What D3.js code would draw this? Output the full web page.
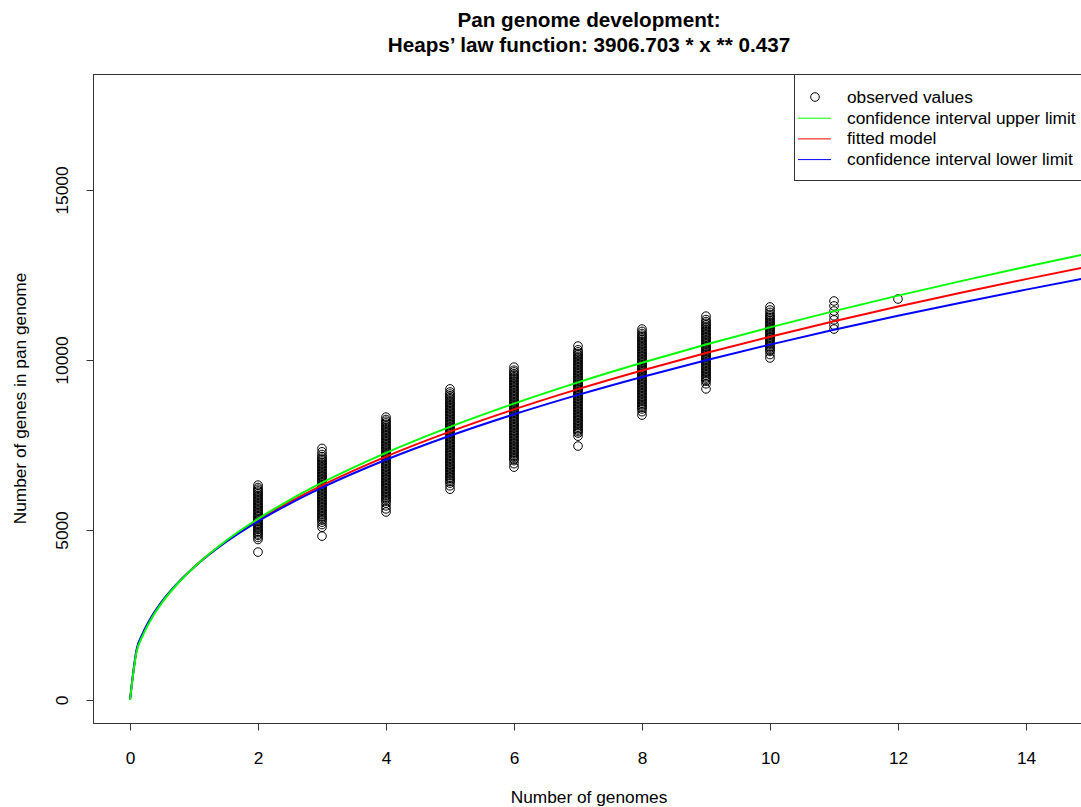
<!DOCTYPE html>
<html>
<head>
<meta charset="utf-8">
<script src="https://cdn.jsdelivr.net/npm/d3@7"></script>
<style>
  body { margin: 0; background: #fff; }
  text { font-family: "Liberation Sans", Arial, Helvetica, sans-serif; fill: #000; }
</style>
</head>
<body>
<svg width="1081" height="807"></svg>
<script>
// number of genomes sampled (x positions of the observed columns)
var genomes = [2, 3, 4, 5, 6, 7, 8, 9, 10, 11, 12];

// observed pan genome sizes, one array per column
var obs2 = [4350, 4720, 4780, 4840, 4880, 4925, 4960, 5010, 5045, 5090, 5130, 5175, 5210, 5255, 5300, 5340, 5385, 5420, 5465, 5510, 5550, 5590, 5635, 5680, 5720, 5760, 5805, 5850, 5890, 5935, 5980, 6020, 6065, 6110, 6150, 6200, 6250, 6320];
var obs3 = [4820, 5080, 5160, 5230, 5290, 5335, 5380, 5420, 5465, 5510, 5550, 5595, 5640, 5680, 5725, 5770, 5810, 5855, 5900, 5940, 5985, 6030, 6070, 6115, 6160, 6200, 6245, 6290, 6330, 6375, 6420, 6460, 6505, 6550, 6590, 6635, 6680, 6720, 6765, 6810, 6850, 6895, 6940, 6980, 7025, 7070, 7110, 7160, 7220, 7300, 7400];
var obs4 = [5530, 5620, 5710, 5790, 5850, 5895, 5940, 5980, 6025, 6070, 6110, 6155, 6200, 6240, 6285, 6330, 6370, 6415, 6460, 6500, 6545, 6590, 6630, 6675, 6720, 6760, 6805, 6850, 6890, 6935, 6980, 7020, 7065, 7110, 7150, 7195, 7240, 7280, 7325, 7370, 7410, 7455, 7500, 7540, 7585, 7630, 7670, 7715, 7760, 7800, 7845, 7890, 7930, 7975, 8020, 8060, 8105, 8150, 8200, 8250, 8320];
var obs5 = [6200, 6300, 6380, 6430, 6475, 6520, 6560, 6605, 6650, 6690, 6735, 6780, 6820, 6865, 6910, 6950, 6995, 7040, 7080, 7125, 7170, 7210, 7255, 7300, 7340, 7385, 7430, 7470, 7515, 7560, 7600, 7645, 7690, 7730, 7775, 7820, 7860, 7905, 7950, 7990, 8035, 8080, 8120, 8165, 8210, 8250, 8295, 8340, 8380, 8425, 8470, 8510, 8555, 8600, 8640, 8685, 8730, 8770, 8815, 8860, 8900, 8950, 9000, 9060, 9150];
var obs6 = [6850, 6950, 7040, 7085, 7130, 7170, 7215, 7260, 7300, 7345, 7390, 7430, 7475, 7520, 7560, 7605, 7650, 7690, 7735, 7780, 7820, 7865, 7910, 7950, 7995, 8040, 8080, 8125, 8170, 8210, 8255, 8300, 8340, 8385, 8430, 8470, 8515, 8560, 8600, 8645, 8690, 8730, 8775, 8820, 8860, 8905, 8950, 8990, 9035, 9080, 9120, 9165, 9210, 9250, 9295, 9340, 9380, 9425, 9470, 9510, 9555, 9600, 9650, 9700, 9790];
var obs7 = [7470, 7760, 7850, 7895, 7940, 7980, 8025, 8070, 8110, 8155, 8200, 8240, 8285, 8330, 8370, 8415, 8460, 8500, 8545, 8590, 8630, 8675, 8720, 8760, 8805, 8850, 8890, 8935, 8980, 9020, 9065, 9110, 9150, 9195, 9240, 9280, 9325, 9370, 9410, 9455, 9500, 9540, 9585, 9630, 9670, 9715, 9760, 9800, 9845, 9890, 9930, 9975, 10020, 10060, 10105, 10150, 10190, 10240, 10300, 10410];
var obs8 = [8380, 8480, 8560, 8605, 8650, 8690, 8735, 8780, 8820, 8865, 8910, 8950, 8995, 9040, 9080, 9125, 9170, 9210, 9255, 9300, 9340, 9385, 9430, 9470, 9515, 9560, 9600, 9645, 9690, 9730, 9775, 9820, 9860, 9905, 9950, 9990, 10035, 10080, 10120, 10165, 10210, 10250, 10295, 10340, 10380, 10425, 10470, 10510, 10555, 10600, 10640, 10685, 10730, 10780, 10840, 10910];
var obs9 = [9150, 9300, 9380, 9425, 9470, 9510, 9555, 9600, 9640, 9685, 9730, 9770, 9815, 9860, 9900, 9945, 9990, 10030, 10075, 10120, 10160, 10205, 10250, 10290, 10335, 10380, 10420, 10465, 10510, 10550, 10595, 10640, 10680, 10725, 10770, 10810, 10855, 10900, 10940, 10985, 11030, 11080, 11130, 11190, 11290];
var obs10 = [10060, 10160, 10250, 10290, 10335, 10380, 10420, 10465, 10510, 10550, 10595, 10640, 10680, 10725, 10770, 10810, 10855, 10900, 10940, 10985, 11030, 11070, 11115, 11160, 11200, 11245, 11290, 11340, 11400, 11470, 11560];
var obs11 = [10910, 11030, 11180, 11300, 11440, 11590, 11735];
var obs12 = [11794];
var observed = [obs2, obs3, obs4, obs5, obs6, obs7, obs8, obs9, obs10, obs11, obs12];

// model curves (fitted Heaps' law and confidence limits), read along x
var curveX = [0, 0.1, 0.2, 0.35, 0.5, 0.75, 1, 1.5, 2, 2.5, 3, 4, 5, 6, 7, 8, 9, 10, 11, 12, 13, 14, 15];
var fitted = [0, 1428, 1933, 2469, 2886, 3445, 3907, 4664, 5289, 5830, 6314, 7160, 7893, 8548, 9144, 9693, 10205, 10686, 11140, 11572, 11984, 12379, 12758];
var upper  = [0, 1392, 1899, 2441, 2864, 3434, 3907, 4685, 5329, 5889, 6391, 7270, 8034, 8718, 9342, 9917, 10455, 10960, 11438, 11893, 12327, 12744, 13144];
var lower  = [0, 1460, 1963, 2494, 2905, 3454, 3907, 4646, 5254, 5779, 6248, 7066, 7772, 8403, 8975, 9502, 9993, 10453, 10887, 11300, 11693, 12070, 12431];

var xTicks = [0, 2, 4, 6, 8, 10, 12, 14];
var yTicks = [0, 5000, 10000, 15000];

var legendItems = [
  {label: "observed values", type: "point"},
  {label: "confidence interval upper limit", type: "line", color: "#00ff00"},
  {label: "fitted model", type: "line", color: "#ff0000"},
  {label: "confidence interval lower limit", type: "line", color: "#0000ff"}
];

var svg = d3.select("svg");
var box = {left: 93, top: 74, right: 1085, bottom: 723};
var fs = 17.3;

var xScale = d3.scaleLinear().domain([0, 14]).range([130, 1026]);
var yScale = d3.scaleLinear().domain([0, 15000]).range([700, 190]);

// points
var pts = [];
genomes.forEach(function(g, i) {
  observed[i].forEach(function(v) { pts.push({x: g, y: v}); });
});

svg.append("g").selectAll("circle")
  .data(pts)
  .enter()
  .append("circle")
  .attr("cx", function(d) { return xScale(d.x); })
  .attr("cy", function(d) { return yScale(d.y); })
  .attr("r", 4.3)
  .attr("fill", "none")
  .attr("stroke", "#000")
  .attr("stroke-width", 1);

// curves
var line = d3.line()
  .x(function(d) { return xScale(d[0]); })
  .y(function(d) { return yScale(d[1]); })
  .curve(d3.curveMonotoneX);

function series(vals) { return curveX.map(function(x, i) { return [x, vals[i]]; }); }

[[fitted, "#ff0000"], [lower, "#0000ff"], [upper, "#00ff00"]].forEach(function(s) {
  svg.append("path")
    .attr("d", line(series(s[0])))
    .attr("fill", "none")
    .attr("stroke", s[1])
    .attr("stroke-width", 2);
});

// plot frame
svg.append("rect")
  .attr("x", box.left + 0.5).attr("y", box.top + 0.5)
  .attr("width", box.right - box.left).attr("height", box.bottom - box.top)
  .attr("fill", "none").attr("stroke", "#333").attr("stroke-width", 1);

// x axis
var xAxis = svg.append("g")
  .attr("transform", "translate(0," + (box.bottom + 0.5) + ")")
  .call(d3.axisBottom(xScale).tickValues(xTicks).tickSize(7).tickFormat(d3.format("d")));
xAxis.select(".domain").attr("stroke", "#333").attr("d", "M" + xScale(0) + ",0H" + xScale(14));
xAxis.selectAll(".tick line").attr("stroke", "#333");
xAxis.selectAll(".tick text").attr("y", 40).attr("dy", 0).attr("font-size", fs).attr("fill", "#000");

// y axis
var yAxis = svg.append("g")
  .attr("transform", "translate(" + (box.left + 0.5) + ",0)")
  .call(d3.axisLeft(yScale).tickValues(yTicks).tickSize(7).tickFormat(d3.format("d")));
yAxis.select(".domain").attr("stroke", "#333").attr("d", "M0," + yScale(0) + "V" + yScale(15000));
yAxis.selectAll(".tick line").attr("stroke", "#333");
yAxis.selectAll(".tick text")
  .attr("x", 0).attr("y", -25.5).attr("dy", 0)
  .attr("transform", "rotate(-90)")
  .attr("text-anchor", "middle")
  .attr("font-size", fs).attr("fill", "#000");

// axis titles
svg.append("text")
  .attr("x", (box.left + box.right) / 2).attr("y", 803)
  .attr("text-anchor", "middle").attr("font-size", fs)
  .text("Number of genomes");

svg.append("text")
  .attr("transform", "translate(25.5," + (box.top + box.bottom) / 2 + ") rotate(-90)")
  .attr("text-anchor", "middle").attr("font-size", fs)
  .text("Number of genes in pan genome");

// title
var title = svg.append("text")
  .attr("text-anchor", "middle").attr("font-size", 20.7).attr("font-weight", "bold");
title.append("tspan").attr("x", (box.left + box.right) / 2).attr("y", 27).text("Pan genome development:");
title.append("tspan").attr("x", (box.left + box.right) / 2).attr("y", 52).text("Heaps\u2019 law function: 3906.703 * x ** 0.437");

// legend
var lg = svg.append("g");
lg.append("rect")
  .attr("x", 794.5).attr("y", box.top + 0.5)
  .attr("width", box.right - 794).attr("height", 106)
  .attr("fill", "#fff").attr("stroke", "#333");

var rows = lg.selectAll(".row")
  .data(legendItems)
  .enter()
  .append("g")
  .attr("transform", function(d, i) { return "translate(0," + (97 + i * 20.7) + ")"; });

rows.filter(function(d) { return d.type == "point"; })
  .append("circle")
  .attr("cx", 815).attr("cy", 0).attr("r", 4.3)
  .attr("fill", "none").attr("stroke", "#000");

rows.filter(function(d) { return d.type == "line"; })
  .append("line")
  .attr("x1", 798).attr("x2", 831).attr("y1", 0.5).attr("y2", 0.5)
  .attr("stroke", function(d) { return d.color; }).attr("stroke-width", 1);

rows.append("text")
  .attr("x", 847).attr("y", 6).attr("font-size", fs)
  .text(function(d) { return d.label; });
</script>
</body>
</html>
